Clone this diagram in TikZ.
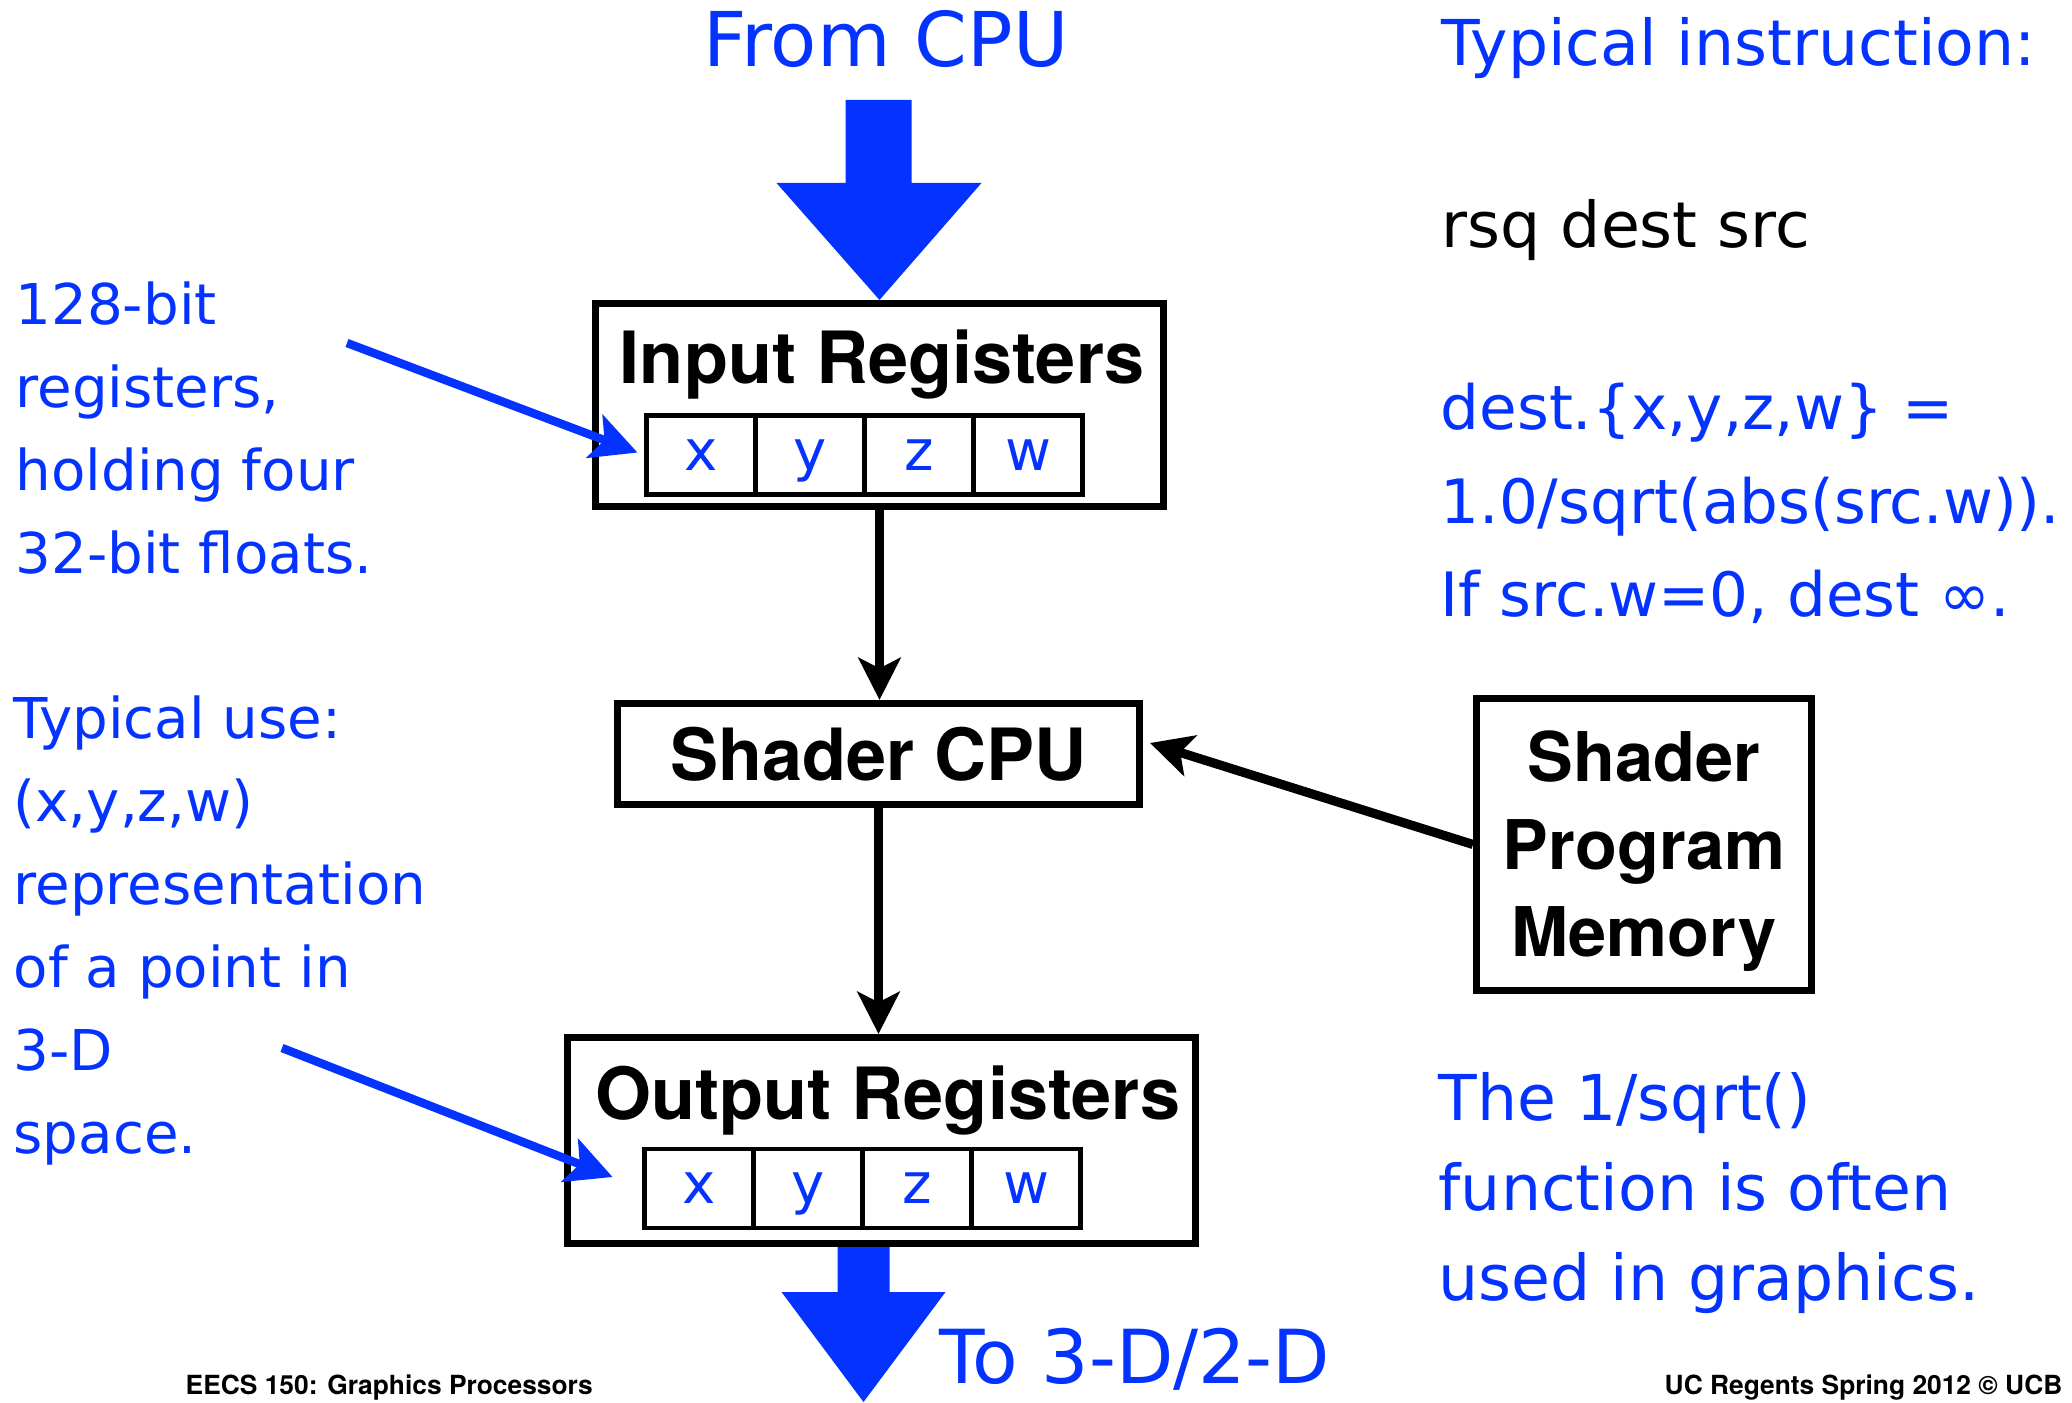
\documentclass[tikz,border=0pt]{standalone}
\usepackage{fontspec}
\usetikzlibrary{arrows.meta}
\newfontfamily\handfont{DejaVu Sans}
\newfontfamily\headfont{TeX Gyre Heros}
\definecolor{penblue}{RGB}{4,51,255}

\begin{document}
\begin{tikzpicture}[
    block/.style={draw, line width=2pt, inner sep=0pt},
    heading/.style={inner sep=0pt, font=\headfont\bfseries\fontsize{20.5}{24.9}\selectfont, align=center},
    cell/.style={draw, line width=1.4pt, minimum width=1.09cm, minimum height=0.79cm, inner sep=0pt, text height=8.7pt, text depth=0pt, text=penblue, font=\handfont\fontsize{16}{19}\selectfont},
    hand/.style={inner sep=0pt, text=penblue, align=left, font=\handfont\fontsize{18}{26.7}\selectfont},
    side/.style={inner sep=0pt, text=penblue, align=left, font=\handfont\fontsize{16}{23.6}\selectfont},
    footer/.style={inner sep=0pt, font=\headfont\bfseries\fontsize{7.5}{9}\selectfont},
    arrow/.style={-{Stealth[length=12pt, width=12pt, inset=3pt]}, line width=2.6pt},
    pointer/.style={-{Stealth[length=13pt, width=13pt, inset=3pt]}, line width=2.4pt, draw=penblue},
    bigarrow/.style={fill=penblue}
]
    \useasboundingbox (0,0) rectangle (20.72,14.02);

    \node[block, minimum width=5.68cm, minimum height=2.03cm] (inreg) at (8.795,9.97) {};
    \node[heading, anchor=base] (intitle) at (8.82,10.18) {Input Registers};
    \node[cell] (inx) at (7.01,9.47) {x};
    \node[cell] (iny) at (8.10,9.47) {y};
    \node[cell] (inz) at (9.19,9.47) {z};
    \node[cell] (inw) at (10.28,9.47) {w};

    \node[block, heading, minimum width=5.22cm, minimum height=1.01cm] (cpu) at (8.785,6.48) {Shader CPU};

    \node[block, minimum width=6.28cm, minimum height=2.06cm] (outreg) at (8.815,2.615) {};
    \node[heading, anchor=base] (outtitle) at (8.88,2.83) {Output Registers};
    \node[cell] (outx) at (6.99,2.135) {x};
    \node[cell] (outy) at (8.08,2.135) {y};
    \node[cell] (outz) at (9.17,2.135) {z};
    \node[cell] (outw) at (10.26,2.135) {w};

    \node[block, minimum width=3.35cm, minimum height=2.92cm] (mem) at (16.44,5.575) {};
    \node[heading, font=\headfont\bfseries\fontsize{19.5}{24.9}\selectfont] (memlabel) at ([yshift=-0.07cm]mem.center) {Shader\\Program\\Memory};

    \node[hand, font=\handfont\fontsize{21.5}{26}\selectfont, anchor=base] (fromcpu) at (8.86,13.35) {From CPU};
    \node[hand, font=\handfont\fontsize{21.2}{26}\selectfont, anchor=base west] (to3d) at (9.39,0.19) {To 3-D/2-D};

    \fill[bigarrow] (inreg.north) -- ++(-1.03,1.17) -- ++(0.69,0) -- ++(0,0.83) -- ++(0.66,0)
        -- ++(0,-0.83) -- ++(0.70,0) -- cycle;
    \coordinate (down) at ([xshift=-0.18cm]outreg.south);
    \fill[bigarrow] (down) ++(-0.26,0) -- ++(0,-0.45) -- ++(-0.56,0) -- ++(0.82,-1.10)
        -- ++(0.82,1.10) -- ++(-0.56,0) -- ++(0,0.45) -- cycle;

    \draw[arrow] (inreg.south) -- (inreg.south |- cpu.north);
    \draw[arrow] (cpu.south) -- (cpu.south |- outreg.north);
    \draw[arrow] (mem.west) -- ([shift={(0.07,0.11)}]cpu.east);

    \node[side, anchor=north west] (regnote) at (0.15,11.21) {128-bit\\registers,\\holding four\\32-bit floats.};
    \node[side, anchor=north west] (usenote) at (0.13,7.07) {Typical use:\\(x,y,z,w)\\representation\\of a point in\\3-D\\space.};
    \coordinate (regtail) at (3.47,10.59);
    \coordinate (usetail) at (2.82,3.54);
    \draw[pointer, shorten >=2pt] (regtail) -- (inx.west);
    \draw[pointer, shorten >=9pt] (usetail) -- (outx.west);

    \node[hand, anchor=base west] (instr) at (14.41,13.36) {Typical instruction:};
    \node[hand, text=black, anchor=base west] (rsq) at (14.41,11.54) {rsq dest src};
    \node[hand, font=\handfont\fontsize{17.4}{26.7}\selectfont, anchor=north west] (semantics) at (14.40,10.20) {dest.\{x,y,z,w\} =\\1.0/sqrt(abs(src.w)).\\If src.w=0, dest ∞.};
    \node[hand, font=\handfont\fontsize{18}{25.6}\selectfont, anchor=north west] (usage) at (14.38,3.30) {The 1/sqrt()\\function is often\\used in graphics.};

    \node[footer, anchor=base west] (course) at (1.85,0.08) {EECS 150: Graphics Processors};
    \node[footer, anchor=base east] (credit) at (20.63,0.08) {UC Regents Spring 2012 © UCB};
\end{tikzpicture}
\end{document}
